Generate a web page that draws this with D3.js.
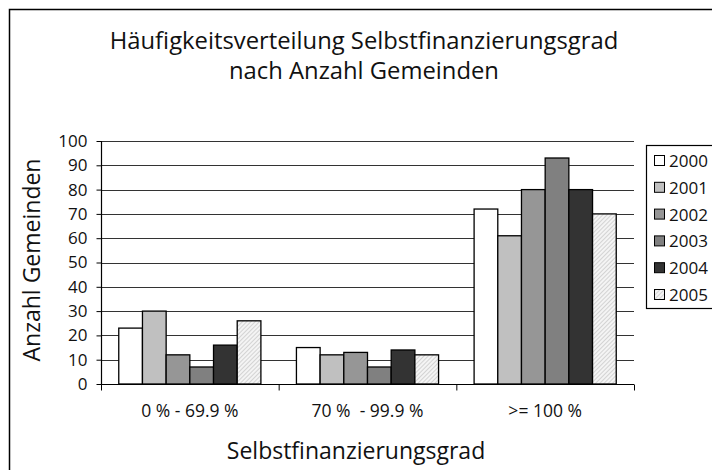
<!DOCTYPE html>
<html lang="de">
  <head>
    <meta charset="UTF-8" />
    <script src="https://d3js.org/d3.v7.min.js"></script>
    <title>Häufigkeitsverteilung</title>
    <style>
      body { margin: 0; background: #fff; }
      text { font-family: "Open Sans", "DejaVu Sans", sans-serif; fill: #111; white-space: pre; }
    </style>
  </head>
  <body>
    <svg width="712" height="470"></svg>
    <script>
      // Daten
      const categories = ["0 % - 69.9 %", "70 %  - 99.9 %", ">= 100 %"];
      const years = ["2000", "2001", "2002", "2003", "2004", "2005"];
      const values = {
        "2000": [23, 15, 72],
        "2001": [30, 12, 61],
        "2002": [12, 13, 80],
        "2003": [7, 7, 93],
        "2004": [16, 14, 80],
        "2005": [26, 12, 70]
      };
      const yTicks = [0, 10, 20, 30, 40, 50, 60, 70, 80, 90, 100];
      const colors = ["#ffffff", "#c0c0c0", "#969696", "#808080", "#333333", "url(#hatch)"];

      const svg = d3.select("svg");

      // Schraffur fuer 2005
      const pat = svg.append("defs").append("pattern")
        .attr("id", "hatch")
        .attr("patternUnits", "userSpaceOnUse")
        .attr("width", 3).attr("height", 3)
        .attr("patternTransform", "rotate(45)");
      pat.append("rect").attr("width", 3).attr("height", 3).attr("fill", "#f4f4f4");
      pat.append("line").attr("x1", 0).attr("y1", 0).attr("x2", 0).attr("y2", 3)
        .attr("stroke", "#bdbdbd").attr("stroke-width", 1.2);

      // Rahmen
      svg.append("rect")
        .attr("x", 9.5).attr("y", 9.5).attr("width", 720).attr("height", 480)
        .attr("fill", "none").attr("stroke", "#000").attr("stroke-width", 1.5);

      const plotLeft = 101, plotRight = 634, plotTop = 141, plotBottom = 384;

      const x0 = d3.scaleBand().domain(categories).range([plotLeft, plotRight]).paddingInner(0).paddingOuter(0);
      const x1 = d3.scaleBand().domain(years).range([0, x0.bandwidth()]).paddingInner(0).paddingOuter(0.75);
      const y = d3.scaleLinear().domain([0, 100]).range([plotBottom, plotTop]);

      // Gitterlinien
      svg.append("g")
        .selectAll("line")
        .data(yTicks.filter(d => d > 0))
        .join("line")
        .attr("x1", plotLeft).attr("x2", plotRight)
        .attr("y1", d => Math.round(y(d)) + 0.5).attr("y2", d => Math.round(y(d)) + 0.5)
        .attr("stroke", "#333").attr("stroke-width", 1);

      // Balken
      const groups = svg.append("g")
        .selectAll("g")
        .data(categories)
        .join("g")
        .attr("transform", d => `translate(${x0(d)},0)`);

      groups.selectAll("rect")
        .data((c, i) => years.map((yr, j) => ({ yr, j, v: values[yr][i] })))
        .join("rect")
        .attr("x", d => x1(d.yr))
        .attr("y", d => y(d.v))
        .attr("width", x1.bandwidth())
        .attr("height", d => plotBottom - y(d.v))
        .attr("fill", d => colors[d.j])
        .attr("stroke", "#000")
        .attr("stroke-width", 1.3);

      // Achsen
      const yAxis = d3.axisLeft(y).tickValues(yTicks).tickSize(5).tickPadding(9);
      const gy = svg.append("g")
        .attr("transform", `translate(${plotLeft + 0.5},0)`)
        .call(yAxis);
      gy.selectAll("text").style("font-size", "17px").attr("fill", "#111");

      const xAxis = d3.axisBottom(x0).tickSize(0).tickPadding(20);
      const gx = svg.append("g")
        .attr("transform", `translate(0,${plotBottom + 0.5})`)
        .call(xAxis);
      gx.selectAll("text").style("font-size", "17.5px").attr("fill", "#111");
      gx.select(".domain").attr("d", `M${plotLeft},0H${plotRight}`);
      // Trennstriche zwischen den Kategorien
      gx.selectAll(".sep")
        .data(categories.map(c => x0(c)).concat([plotRight]))
        .join("line")
        .attr("class", "sep")
        .attr("x1", d => d + 0.5).attr("x2", d => d + 0.5)
        .attr("y1", 0).attr("y2", 6)
        .attr("stroke", "#000");

      svg.selectAll(".domain").attr("stroke", "#000").attr("stroke-width", 1.2);
      gy.select(".domain").attr("d", `M0,${plotBottom}V${plotTop}`);

      // Titel
      svg.append("text")
        .attr("x", 364).attr("y", 48.5)
        .attr("text-anchor", "middle")
        .style("font-size", "23.8px")
        .text("Häufigkeitsverteilung Selbstfinanzierungsgrad");
      svg.append("text")
        .attr("x", 364).attr("y", 78.5)
        .attr("text-anchor", "middle")
        .style("font-size", "23.8px")
        .text("nach Anzahl Gemeinden");

      // Achsentitel
      svg.append("text")
        .attr("transform", "translate(40,260) rotate(-90)")
        .attr("text-anchor", "middle")
        .style("font-size", "23px")
        .text("Anzahl Gemeinden");
      svg.append("text")
        .attr("x", 356).attr("y", 458.5)
        .attr("text-anchor", "middle")
        .style("font-size", "23px")
        .text("Selbstfinanzierungsgrad");

      // Legende
      const legend = svg.append("g").attr("transform", "translate(646,145)");
      legend.append("rect")
        .attr("x", 0.5).attr("y", 0.5).attr("width", 80).attr("height", 163)
        .attr("fill", "#fff").attr("stroke", "#000").attr("stroke-width", 1.2);
      const items = legend.selectAll(".item")
        .data(years)
        .join("g")
        .attr("class", "item")
        .attr("transform", (d, i) => `translate(8,${16 + i * 26.8})`);
      items.append("rect")
        .attr("x", 0.5).attr("y", -5.5).attr("width", 10).attr("height", 10)
        .attr("fill", (d, i) => colors[i])
        .attr("stroke", "#000").attr("stroke-width", 1);
      items.append("text")
        .attr("x", 15).attr("y", 6)
        .style("font-size", "17px")
        .text(d => d);
    </script>
  </body>
</html>
